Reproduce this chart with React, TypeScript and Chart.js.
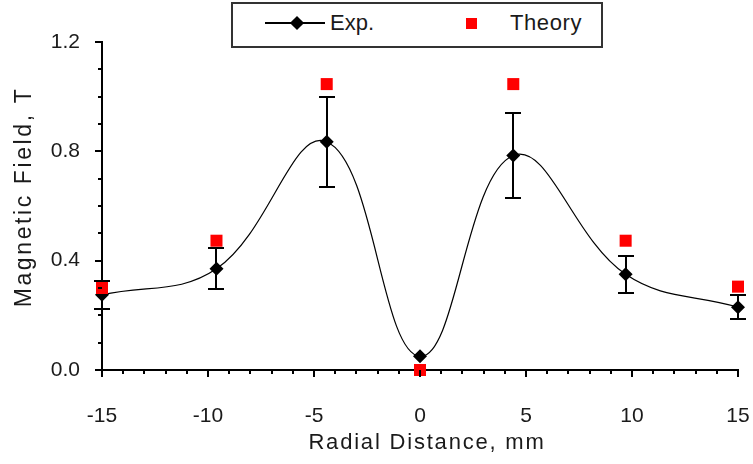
import React, { useEffect, useRef } from 'react';
import { Chart, registerables } from 'chart.js';

Chart.register(...registerables);

// ---- data ----
const expX = [-15, -9.6, -4.4, 0, 4.4, 9.7, 15];
const expY = [0.275, 0.37, 0.835, 0.05, 0.785, 0.35, 0.23];
const expErr = [0.05, 0.075, 0.165, 0, 0.155, 0.068, 0.045];
const theoryX = [-15, -9.6, -4.4, 0, 4.4, 9.7, 15];
const theoryY = [0.3, 0.473, 1.046, 0, 1.046, 0.473, 0.305];
const seriesNames = ['Exp.', 'Theory'];
const xTitle = 'Radial Distance, mm';
const yTitle = 'Magnetic Field, T';
const xMin = -15, xMax = 15, xMajor = 5, xMinor = 1;
const yMin = 0, yMax = 1.2, yMajor = 0.4, yMinor = 0.1;

const FONT = '"Liberation Sans", Arial, sans-serif';
const TEXT = '#1a1a1a';

const decorPlugin = {
  id: 'decor',
  beforeDatasetsDraw(chart: any) {
    const { ctx } = chart;
    const xs = chart.scales.x;
    const ys = chart.scales.y;
    ctx.save();
    ctx.strokeStyle = '#000';
    ctx.lineWidth = 2;
    expX.forEach((xv, i) => {
      const e = expErr[i];
      if (!e) return;
      const px = Math.round(xs.getPixelForValue(xv));
      const top = Math.round(ys.getPixelForValue(expY[i] + e));
      const bot = Math.round(ys.getPixelForValue(expY[i] - e));
      ctx.beginPath();
      ctx.moveTo(px, top);
      ctx.lineTo(px, bot);
      ctx.moveTo(px - 8, top);
      ctx.lineTo(px + 8, top);
      ctx.moveTo(px - 8, bot);
      ctx.lineTo(px + 8, bot);
      ctx.stroke();
    });
    ctx.restore();
  },
  afterDraw(chart: any) {
    const { ctx, chartArea } = chart;
    const xs = chart.scales.x;
    const ys = chart.scales.y;
    ctx.save();
    ctx.strokeStyle = '#000';
    ctx.lineWidth = 2;
    // y ticks
    const ny = Math.round((yMax - yMin) / yMinor);
    for (let k = 0; k <= ny; k++) {
      const v = yMin + k * yMinor;
      const major = k % Math.round(yMajor / yMinor) === 0;
      const py = Math.round(ys.getPixelForValue(v));
      ctx.beginPath();
      ctx.moveTo(chartArea.left - (major ? 7 : 4), py);
      ctx.lineTo(chartArea.left, py);
      ctx.stroke();
    }
    // x ticks
    const nx = Math.round((xMax - xMin) / xMinor);
    for (let k = 0; k <= nx; k++) {
      const v = xMin + k * xMinor;
      const major = k % Math.round(xMajor / xMinor) === 0;
      const px = Math.round(xs.getPixelForValue(v));
      ctx.beginPath();
      ctx.moveTo(px, chartArea.bottom);
      ctx.lineTo(px, chartArea.bottom + (major ? 7 : 4));
      ctx.stroke();
    }
    // axis titles
    ctx.fillStyle = TEXT;
    ctx.textAlign = 'center';
    ctx.textBaseline = 'middle';
    ctx.font = `22px ${FONT}`;
    (ctx as any).letterSpacing = '1.8px';
    ctx.fillText(xTitle, 427, 443);
    ctx.font = `23px ${FONT}`;
    (ctx as any).letterSpacing = '2.6px';
    ctx.translate(25, 197);
    ctx.rotate(-Math.PI / 2);
    ctx.fillText(yTitle, 0, 0);
    (ctx as any).letterSpacing = '0px';
    ctx.restore();
  },
};

function Legend() {
  const text: React.CSSProperties = {
    position: 'absolute',
    top: 7,
    lineHeight: '24px',
    fontSize: 22,
    fontFamily: FONT,
    color: TEXT,
    whiteSpace: 'nowrap',
  };
  return (
    <div
      style={{
        position: 'absolute',
        left: 231,
        top: 2,
        width: 372,
        height: 46,
        boxSizing: 'border-box',
        border: '2px solid #333',
        background: '#fff',
      }}
    >
      <div style={{ position: 'absolute', left: 32, top: 18, width: 60, height: 2, background: '#000' }} />
      <div
        style={{
          position: 'absolute',
          left: 59,
          top: 14,
          width: 10,
          height: 10,
          background: '#000',
          transform: 'rotate(45deg)',
        }}
      />
      <span style={{ ...text, left: 97 }}>{seriesNames[0]}</span>
      <div style={{ position: 'absolute', left: 233, top: 14, width: 11, height: 11, background: '#ff0000' }} />
      <span style={{ ...text, left: 277, letterSpacing: '0.6px' }}>{seriesNames[1]}</span>
    </div>
  );
}

export default function App() {
  const ref = useRef<HTMLCanvasElement | null>(null);
  useEffect(() => {
    if (!ref.current) return;
    const chart = new Chart(ref.current, {
      type: 'scatter',
      data: {
        datasets: [
          {
            label: seriesNames[0],
            data: expX.map((x, i) => ({ x, y: expY[i] })),
            showLine: true,
            borderColor: '#000',
            borderWidth: 1.2,
            tension: 0.4,
            pointStyle: 'rectRot',
            pointRadius: 7,
            pointBackgroundColor: '#000',
            pointBorderColor: '#000',
            pointBorderWidth: 0,
            clip: false as any,
            order: 2,
          },
          {
            label: seriesNames[1],
            data: theoryX.map((x, i) => ({ x, y: theoryY[i] })),
            showLine: false,
            pointStyle: 'rect',
            pointRadius: 8.5,
            pointBackgroundColor: '#ff0000',
            pointBorderColor: '#ff0000',
            pointBorderWidth: 0,
            clip: false as any,
            order: 1,
          },
        ],
      },
      options: {
        responsive: false,
        animation: false,
        layout: { padding: { top: 42, right: 15, left: 0, bottom: 0 } },
        plugins: { legend: { display: false }, tooltip: { enabled: false } },
        scales: {
          x: {
            type: 'linear',
            min: xMin,
            max: xMax,
            grid: { display: false, drawOnChartArea: false },
            border: { display: true, color: '#000', width: 2 },
            ticks: {
              stepSize: xMajor,
              autoSkip: false,
              maxRotation: 0,
              padding: 26,
              color: TEXT,
              font: { family: FONT, size: 21 },
              callback: (v: any) => String(Math.round(Number(v))),
            },
            afterFit: (s: any) => {
              s.height = 94;
              s.paddingLeft = 0;
              s.paddingRight = 0;
            },
          },
          y: {
            type: 'linear',
            min: yMin,
            max: yMax,
            grid: { display: false, drawOnChartArea: false },
            border: { display: true, color: '#000', width: 2 },
            ticks: {
              stepSize: yMajor,
              padding: 14,
              color: TEXT,
              font: { family: FONT, size: 21 },
              callback: (v: any) => Number(v).toFixed(1),
            },
            afterFit: (s: any) => {
              s.width = 102;
              s.paddingTop = 0;
              s.paddingBottom = 0;
            },
          },
        },
      },
      plugins: [decorPlugin],
    });
    return () => chart.destroy();
  }, []);
  return (
    <div style={{ position: 'absolute', left: 0, top: 0, width: 753, height: 464, background: '#fff' }}>
      <canvas ref={ref} width={753} height={464} style={{ width: 753, height: 464, display: 'block' }} />
      <Legend />
    </div>
  );
}
